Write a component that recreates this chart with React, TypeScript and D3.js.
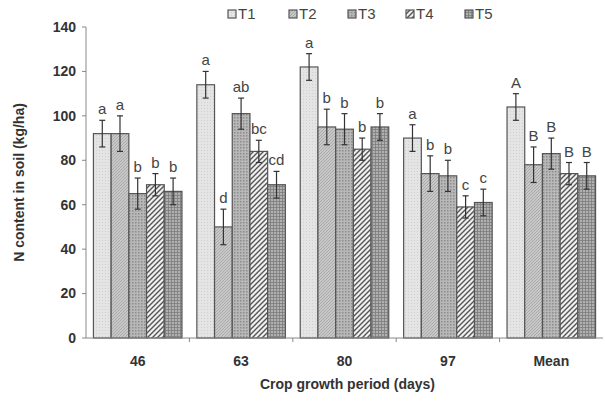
import { useEffect, useRef } from "react";
import * as d3 from "d3";

const periods = ["46", "63", "80", "97", "Mean"];
const treatments = ["T1", "T2", "T3", "T4", "T5"];
// values per period, T1..T5
const nValues = [
  [92, 92, 65, 69, 66],
  [114, 50, 101, 84, 69],
  [122, 95, 94, 85, 95],
  [90, 74, 73, 59, 61],
  [104, 78, 83, 74, 73],
];
const nErrors = [
  [6, 8, 7, 5, 6],
  [6, 8, 7, 5, 6],
  [6, 8, 7, 5, 6],
  [6, 8, 7, 5, 6],
  [6, 8, 7, 5, 6],
];
const sigLetters = [
  ["a", "a", "b", "b", "b"],
  ["a", "d", "ab", "bc", "cd"],
  ["a", "b", "b", "b", "b"],
  ["a", "b", "b", "c", "c"],
  ["A", "B", "B", "B", "B"],
];
const yTicks = [0, 20, 40, 60, 80, 100, 120, 140];

const W = 605,
  H = 403;
const margin = { top: 27, right: 2, bottom: 65, left: 86 };

function App() {
  const svgRef = useRef(null);

  const buildSVG = () => {
    const svg = d3.select(svgRef.current);
    svg.selectAll("*").remove();

    const defs = svg.append("defs");
    // T1 light dotted
    const p1 = defs.append("pattern").attr("id", "p1").attr("width", 3).attr("height", 3).attr("patternUnits", "userSpaceOnUse");
    p1.append("rect").attr("width", 3).attr("height", 3).attr("fill", "#e4e4e4");
    p1.append("rect").attr("width", 1).attr("height", 1).attr("fill", "#d0d0d0");
    // T2 fine diagonal
    const p2 = defs.append("pattern").attr("id", "p2").attr("width", 3).attr("height", 3).attr("patternUnits", "userSpaceOnUse");
    p2.append("rect").attr("width", 3).attr("height", 3).attr("fill", "#c8c8c8");
    p2.append("path").attr("d", "M0,3 L3,0").attr("stroke", "#a2a2a2").attr("stroke-width", 0.8);
    // T3 dots
    const p3 = defs.append("pattern").attr("id", "p3").attr("width", 3).attr("height", 3).attr("patternUnits", "userSpaceOnUse");
    p3.append("rect").attr("width", 3).attr("height", 3).attr("fill", "#b8b8b8");
    p3.append("rect").attr("width", 1.5).attr("height", 1.5).attr("fill", "#8c8c8c");
    // T4 diagonal hatch
    const p4 = defs.append("pattern").attr("id", "p4").attr("width", 5).attr("height", 5).attr("patternUnits", "userSpaceOnUse");
    p4.append("rect").attr("width", 5).attr("height", 5).attr("fill", "#f0f0f0");
    p4.append("path").attr("d", "M-1,6 L6,-1 M-1,1 L1,-1 M4,6 L6,4").attr("stroke", "#555").attr("stroke-width", 1.4);
    // T5 grid
    const p5 = defs.append("pattern").attr("id", "p5").attr("width", 3).attr("height", 3).attr("patternUnits", "userSpaceOnUse");
    p5.append("rect").attr("width", 3).attr("height", 3).attr("fill", "#b0b0b0");
    p5.append("path").attr("d", "M0,0.5 H3 M0.5,0 V3").attr("stroke", "#7c7c7c").attr("stroke-width", 0.8);
    const fills = ["url(#p1)", "url(#p2)", "url(#p3)", "url(#p4)", "url(#p5)"];

    const g = svg.append("g");
    const x0 = d3.scaleBand().domain(periods).range([margin.left, W - margin.right]).paddingInner(0).paddingOuter(0);
    const x1 = d3.scaleBand().domain(treatments).range([0, x0.bandwidth()]).paddingOuter(0.42).paddingInner(0);
    const y = d3.scaleLinear().domain([0, 140]).range([H - margin.bottom, margin.top]);

    const font = "Arial, 'Liberation Sans', sans-serif";

    // y axis
    g.append("line").attr("x1", margin.left).attr("x2", margin.left).attr("y1", y(0)).attr("y2", y(140)).attr("stroke", "#888");
    yTicks.forEach((t) => {
      g.append("line").attr("x1", margin.left - 4).attr("x2", margin.left).attr("y1", y(t)).attr("y2", y(t)).attr("stroke", "#888");
      g.append("text").attr("x", margin.left - 10).attr("y", y(t)).attr("dy", "0.35em").attr("text-anchor", "end")
        .attr("font-family", font).attr("font-size", 14).attr("font-weight", "bold").attr("fill", "#333").text(t);
    });

    // bars
    periods.forEach((p, i) => {
      treatments.forEach((t, j) => {
        const v = nValues[i][j];
        const e = nErrors[i][j];
        const bx = x0(p)! + x1(t)!;
        const bw = x1.bandwidth();
        g.append("rect").attr("x", bx).attr("y", y(v)).attr("width", bw).attr("height", y(0) - y(v))
          .attr("fill", fills[j]).attr("stroke", "#555").attr("stroke-width", 1.2);
        const cx = bx + bw / 2;
        g.append("line").attr("x1", cx).attr("x2", cx).attr("y1", y(v - e)).attr("y2", y(v + e)).attr("stroke", "#333").attr("stroke-width", 1.2);
        [v - e, v + e].forEach((ev) => {
          g.append("line").attr("x1", cx - 3).attr("x2", cx + 3).attr("y1", y(ev)).attr("y2", y(ev)).attr("stroke", "#333").attr("stroke-width", 1.2);
        });
        g.append("text").attr("x", cx).attr("y", y(v + e) - 6).attr("text-anchor", "middle")
          .attr("font-family", font).attr("font-size", 15).attr("fill", "#444").text(sigLetters[i][j]);
      });
    });

    // x axis
    g.append("line").attr("x1", margin.left).attr("x2", W - margin.right).attr("y1", y(0)).attr("y2", y(0)).attr("stroke", "#888");
    periods.forEach((p, i) => {
      if (i > 0) {
        g.append("line").attr("x1", x0(p)!).attr("x2", x0(p)!).attr("y1", y(0)).attr("y2", y(0) + 4).attr("stroke", "#888");
      }
      g.append("text").attr("x", x0(p)! + x0.bandwidth() / 2).attr("y", y(0) + 28).attr("text-anchor", "middle")
        .attr("font-family", font).attr("font-size", 14).attr("font-weight", "bold").attr("fill", "#333").text(p);
    });

    // axis titles
    g.append("text").attr("x", (margin.left + W) / 2 + 2).attr("y", 389).attr("text-anchor", "middle")
      .attr("font-family", font).attr("font-size", 14).attr("font-weight", "bold").attr("fill", "#333").text("Crop growth period (days)");
    g.append("text").attr("transform", `translate(24,${y(70)}) rotate(-90)`).attr("text-anchor", "middle")
      .attr("font-family", font).attr("font-size", 14).attr("font-weight", "bold").attr("fill", "#333").text("N content in soil (kg/ha)");

    // legend
    const legendX = [228, 289, 348, 406, 465];
    treatments.forEach((t, j) => {
      g.append("rect").attr("x", legendX[j]).attr("y", 10).attr("width", 8).attr("height", 8)
        .attr("fill", fills[j]).attr("stroke", "#555").attr("stroke-width", 1.2);
      g.append("text").attr("x", legendX[j] + 10).attr("y", 19).attr("font-family", font).attr("font-size", 15)
        .attr("fill", "#444").text(t);
    });
  };

  useEffect(buildSVG, []);

  return (
    <div style={{ position: "absolute", left: 0, top: 0 }}>
      <svg ref={svgRef} width={W} height={H} style={{ display: "block", background: "#fff" }}></svg>
    </div>
  );
}

export default App;
